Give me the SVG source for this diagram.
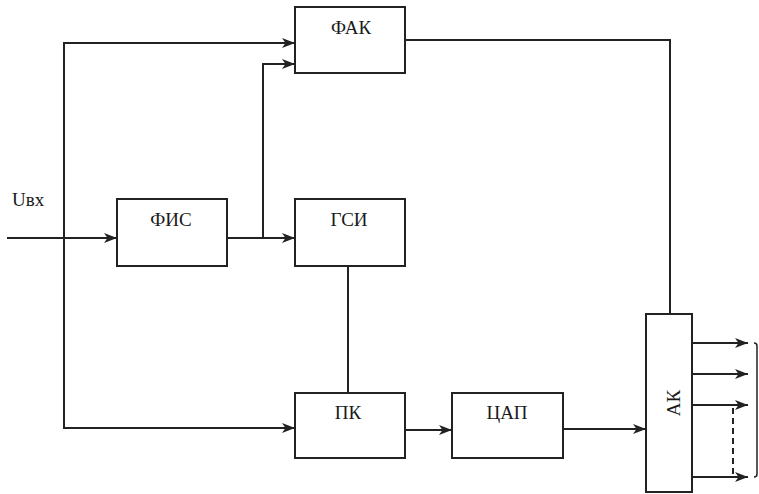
<svg xmlns="http://www.w3.org/2000/svg" width="759" height="494" viewBox="0 0 759 494">
<style>
.box{fill:#fff;stroke:#222;stroke-width:2}
.ln{fill:none;stroke:#222;stroke-width:2}
text{font-family:'Liberation Serif','Times New Roman','DejaVu Serif',serif;font-size:19px;fill:#1a1a1a}
.lbl{text-anchor:middle}
</style>
<defs>
<marker id="ah" viewBox="0 0 13 10" refX="13" refY="5" markerWidth="13" markerHeight="10" markerUnits="userSpaceOnUse" orient="auto">
<path d="M0,0 L13,5 L0,10 L3.5,5 Z" fill="#222"/>
</marker>
</defs>
<g id="connectors">
<path class="ln" d="M7,238 H117" marker-end="url(#ah)"/>
<path class="ln" d="M64,238 V43 H295" marker-end="url(#ah)"/>
<path class="ln" d="M64,238 V428 H295" marker-end="url(#ah)"/>
<path class="ln" d="M227,238 H295" marker-end="url(#ah)"/>
<path class="ln" d="M263,238 V64 H295" marker-end="url(#ah)"/>
<path class="ln" d="M348,266 V393"/>
<path class="ln" d="M405,430 H452" marker-end="url(#ah)"/>
<path class="ln" d="M563,429 H646" marker-end="url(#ah)"/>
<path class="ln" d="M405,40 H670 V314"/>
<path class="ln" d="M692,343 H748" marker-end="url(#ah)"/>
<path class="ln" d="M692,374 H748" marker-end="url(#ah)"/>
<path class="ln" d="M692,405 H748" marker-end="url(#ah)"/>
<path class="ln" d="M692,477 H748" marker-end="url(#ah)"/>
<path class="ln" d="M733,408 V475" stroke-dasharray="6,4"/>
<path d="M754,343 Q757,343 757,346 V474 Q757,477 754,477" fill="none" stroke="#222" stroke-width="1.5"/>
</g>
<g id="input-label">
<text x="12" y="206">Uвх</text>
</g>
<g id="FAK">
<rect class="box" x="295" y="7" width="110" height="66"/>
<text class="lbl" x="351" y="34">ФАК</text>
</g>
<g id="FIS">
<rect class="box" x="117" y="199" width="110" height="67"/>
<text class="lbl" x="171" y="226">ФИС</text>
</g>
<g id="GSI">
<rect class="box" x="295" y="199" width="110" height="67"/>
<text class="lbl" x="349" y="226">ГСИ</text>
</g>
<g id="PK">
<rect class="box" x="295" y="393" width="110" height="65"/>
<text class="lbl" x="348" y="419">ПК</text>
</g>
<g id="DAC">
<rect class="box" x="452" y="393" width="111" height="65"/>
<text class="lbl" x="507" y="419">ЦАП</text>
</g>
<g id="AK">
<rect class="box" x="646" y="314" width="46" height="178"/>
<text class="lbl" transform="translate(680,403) rotate(-90)">АК</text>
</g>
</svg>
